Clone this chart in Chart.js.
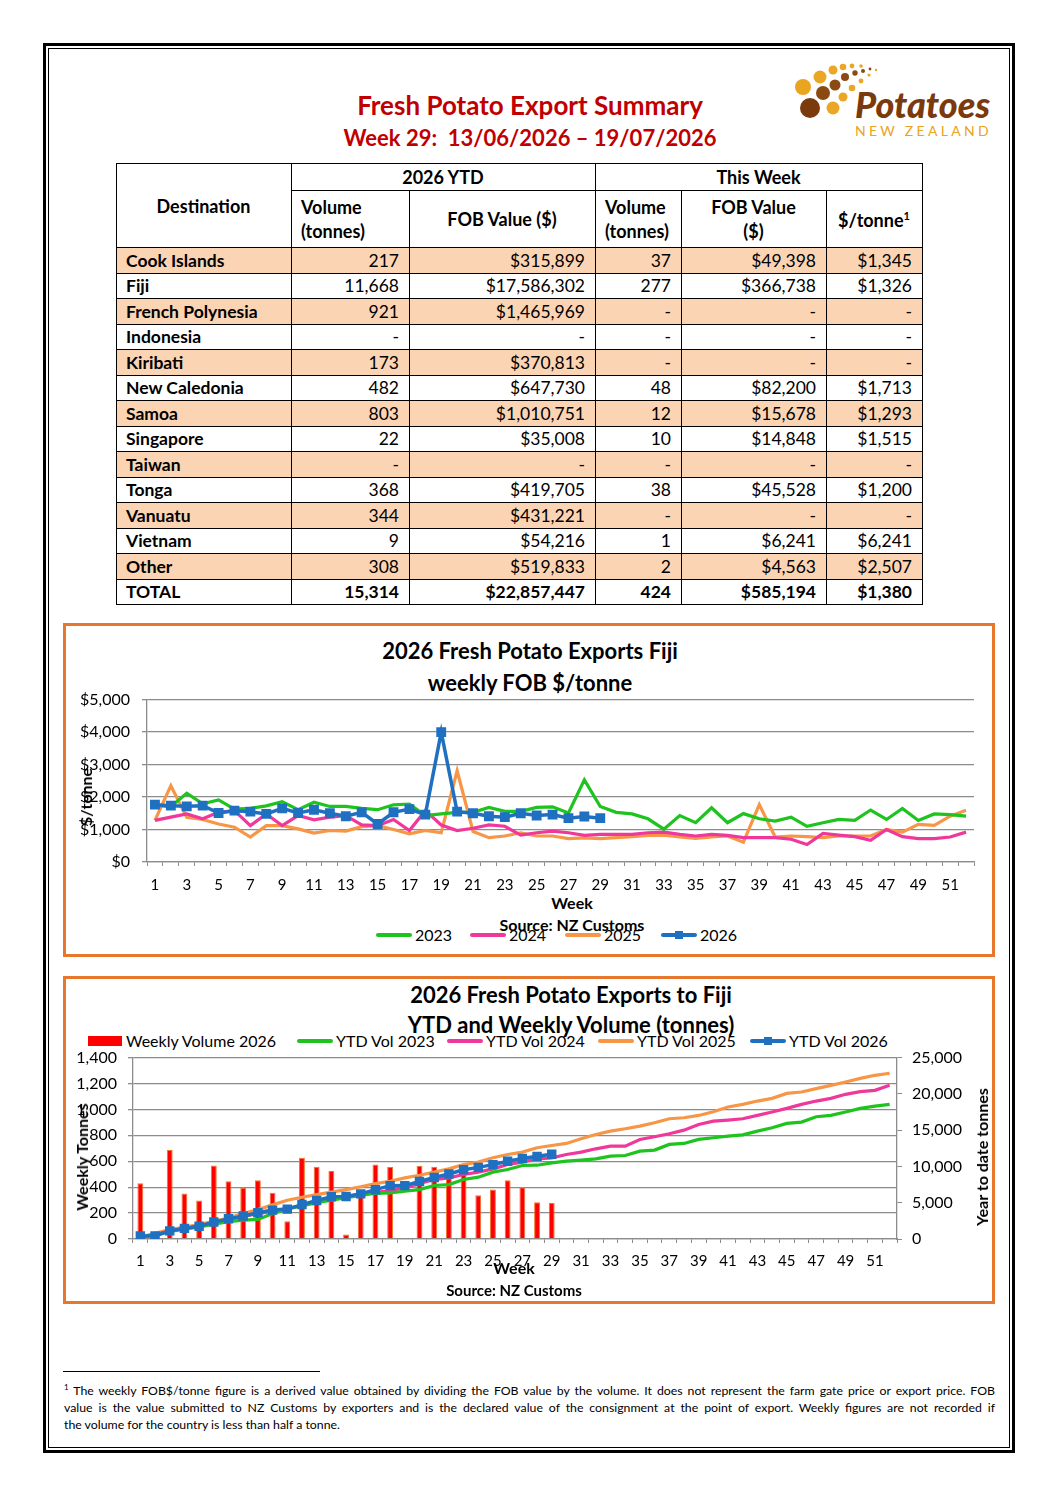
<!DOCTYPE html>
<html>
<head>
<meta charset="utf-8">
<script src="https://cdn.jsdelivr.net/npm/chart.js@4.4.1/dist/chart.umd.min.js"></script>
<style>
  body { margin: 0; background: #fff; font-family: Lato, "Open Sans", sans-serif; color: #000; }
  #page { position: relative; width: 1058px; height: 1497px; overflow: hidden; }
  .abs { position: absolute; }
  .lbl { position: absolute; white-space: pre; transform: translate(-50%, -50%); line-height: 1; }
  table { position: absolute; left: 116px; top: 163px; border-collapse: collapse; table-layout: fixed; font-size: 17.5px; }
  td { border: 1px solid #000; padding: 0 10px 0 9px; height: 24.5px; line-height: 1; }
  td.n { text-align: right; }
  tr.alt td { background: #fbd4b4; }
  .box { position: absolute; border: 3px solid #e8772e; box-sizing: border-box; }
</style>
</head>
<body>
<div id="page">
  <div class="abs" style="left:43px;top:43px;width:972px;height:1410px;border:3px solid #000;box-sizing:border-box;"></div>
  <div class="abs" style="left:48px;top:48px;width:962px;height:1400px;border:1px solid #000;box-sizing:border-box;"></div>

  <div class="lbl" style="left:530px;top:105px;font-size:26px;font-weight:bold;color:#c00000;">Fresh Potato Export Summary</div>
  <div class="lbl" style="left:530px;top:138px;font-size:22px;font-weight:bold;color:#c00000;">Week 29:  13/06/2026 – 19/07/2026</div>

  <svg class="abs" style="left:780px;top:55px;" width="230" height="100" viewBox="780 55 230 100">
    <circle cx="803" cy="87" r="8" fill="#e9a420"/>
    <circle cx="810" cy="108" r="10" fill="#7b3a0c"/>
    <circle cx="823" cy="93" r="7" fill="#8a4a12"/>
    <circle cx="820" cy="77" r="6.5" fill="#eaa726"/>
    <circle cx="833" cy="108" r="6.5" fill="#eaa726"/>
    <circle cx="835" cy="85" r="5.5" fill="#8a4a12"/>
    <circle cx="833" cy="70" r="4.5" fill="#eaa726"/>
    <circle cx="843" cy="97" r="4.5" fill="#eaa726"/>
    <circle cx="845" cy="77" r="4" fill="#8a4a12"/>
    <circle cx="843" cy="67" r="3.3" fill="#eaa726"/>
    <circle cx="852" cy="88" r="3.3" fill="#eaa726"/>
    <circle cx="855" cy="73" r="2.7" fill="#8a4a12"/>
    <circle cx="852" cy="66" r="2.4" fill="#eaa726"/>
    <circle cx="861" cy="81" r="2.4" fill="#eaa726"/>
    <circle cx="863" cy="71" r="2" fill="#8a4a12"/>
    <circle cx="861" cy="66" r="1.8" fill="#eaa726"/>
    <circle cx="869" cy="75" r="1.6" fill="#eaa726"/>
    <circle cx="870" cy="69" r="1.4" fill="#8a4a12"/>
    <circle cx="876" cy="70" r="1.2" fill="#eaa726"/>
    <text x="855" y="118" font-family="Lato, sans-serif" font-size="36" font-weight="900" font-style="italic" fill="#7b3a0c">Potatoes</text>
    <text x="855" y="136" font-family="Lato, sans-serif" font-size="14" letter-spacing="3.3" fill="#e9a420">NEW ZEALAND</text>
  </svg>

  <table id="tbl">
    <colgroup>
      <col style="width:175px"><col style="width:118px"><col style="width:186px">
      <col style="width:86px"><col style="width:145px"><col style="width:96px">
    </colgroup>
    <tbody id="tbody">
      <tr style="font-weight:bold;font-size:18px;">
        <td rowspan="2" style="text-align:center;">Destination</td>
        <td colspan="2" style="text-align:center;height:26px;">2026 YTD</td>
        <td colspan="3" style="text-align:center;">This Week</td>
      </tr>
      <tr style="font-weight:bold;font-size:18px;">
        <td style="height:56px;line-height:1.35;">Volume<br>(tonnes)</td>
        <td style="text-align:center;">FOB Value ($)</td>
        <td style="line-height:1.35;">Volume<br>(tonnes)</td>
        <td style="text-align:center;line-height:1.35;">FOB Value<br>($)</td>
        <td style="text-align:center;">$/tonne<sup style="font-size:11px;">1</sup></td>
      </tr>
    </tbody>
  </table>

  <div class="box" style="left:63px;top:623px;width:932px;height:334px;"></div>
  <div class="lbl" style="left:530px;top:651px;font-size:22px;font-weight:bold;">2026 Fresh Potato Exports Fiji</div>
  <div class="lbl" style="left:530px;top:683px;font-size:22px;font-weight:bold;">weekly FOB $/tonne</div>
  <div class="abs" style="left:65px;top:678px;width:925px;height:212px;"><canvas id="fobChart"></canvas></div>
  <div class="lbl" style="left:86px;top:797px;font-size:16px;font-weight:bold;transform:translate(-50%,-50%) rotate(-90deg);">$/tonne</div>
  <div class="lbl" style="left:572px;top:903px;font-size:16px;font-weight:bold;">Week</div>
  <div id="legend1"></div>
  <div class="lbl" style="left:572px;top:925px;font-size:16px;font-weight:bold;">Source: NZ Customs</div>

  <div class="box" style="left:63px;top:976px;width:932px;height:328px;"></div>
  <div class="lbl" style="left:571px;top:995px;font-size:22px;font-weight:bold;">2026 Fresh Potato Exports to Fiji</div>
  <div class="lbl" style="left:571px;top:1025px;font-size:22px;font-weight:bold;">YTD and Weekly Volume (tonnes)</div>
  <div id="legend2"></div>
  <div class="abs" style="left:65px;top:1037px;width:925px;height:230px;"><canvas id="volChart"></canvas></div>
  <div class="lbl" style="left:82px;top:1157px;font-size:16px;font-weight:bold;transform:translate(-50%,-50%) rotate(-90deg);">Weekly Tonnes</div>
  <div class="lbl" style="left:982px;top:1157px;font-size:16px;font-weight:bold;transform:translate(-50%,-50%) rotate(-90deg);">Year to date tonnes</div>
  <div class="lbl" style="left:514px;top:1268px;font-size:16px;font-weight:bold;">Week</div>
  <div class="lbl" style="left:514px;top:1290px;font-size:15px;font-weight:bold;">Source: NZ Customs</div>

  <div class="abs" style="left:63px;top:1371px;width:257px;height:1px;background:#000;"></div>
  <div class="abs" style="left:64px;top:1379px;width:931px;font-size:12.3px;line-height:17px;">
    <div style="text-align:justify;text-align-last:justify;"><sup style="font-size:8px;">1</sup> The weekly FOB$/tonne figure is a derived value obtained by dividing the FOB value by the volume. It does not represent the farm gate price or export price. FOB</div>
    <div style="text-align:justify;text-align-last:justify;">value is the value submitted to NZ Customs by exporters and is the declared value of the consignment at the point of export. Weekly figures are not recorded if</div>
    <div>the volume for the country is less than half a tonne.</div>
  </div>
</div>

<script>
// table
const destinations = ['Cook Islands', 'Fiji', 'French Polynesia', 'Indonesia', 'Kiribati', 'New Caledonia', 'Samoa',
  'Singapore', 'Taiwan', 'Tonga', 'Vanuatu', 'Vietnam', 'Other', 'TOTAL'];
const ytdVolume = ['217', '11,668', '921', '-', '173', '482', '803', '22', '-', '368', '344', '9', '308', '15,314'];
const ytdFob = ['$315,899', '$17,586,302', '$1,465,969', '-', '$370,813', '$647,730', '$1,010,751', '$35,008', '-',
  '$419,705', '$431,221', '$54,216', '$519,833', '$22,857,447'];
const weekVolume = ['37', '277', '-', '-', '-', '48', '12', '10', '-', '38', '-', '1', '2', '424'];
const weekFob = ['$49,398', '$366,738', '-', '-', '-', '$82,200', '$15,678', '$14,848', '-', '$45,528', '-', '$6,241',
  '$4,563', '$585,194'];
const perTonne = ['$1,345', '$1,326', '-', '-', '-', '$1,713', '$1,293', '$1,515', '-', '$1,200', '-', '$6,241',
  '$2,507', '$1,380'];

// chart data
const weeks = ['1','2','3','4','5','6','7','8','9','10','11','12','13','14','15','16','17','18','19','20','21','22','23',
  '24','25','26','27','28','29','30','31','32','33','34','35','36','37','38','39','40','41','42','43','44','45','46','47',
  '48','49','50','51','52'];

const fob2023 = [1750,1700,2120,1790,1910,1630,1650,1730,1860,1610,1840,1710,1710,1650,1610,1760,1785,1430,1480,1530,
  1530,1680,1560,1560,1680,1700,1510,2530,1710,1530,1480,1330,1010,1430,1210,1670,1210,1490,1330,1260,1380,1100,1210,
  1310,1280,1600,1310,1650,1280,1480,1460,1410];
const fob2024 = [1280,1380,1480,1330,1530,1580,1120,1480,1120,1430,1300,1380,1430,1140,1120,1310,970,1580,1140,970,
  1040,1140,1100,830,900,950,900,820,850,850,850,900,920,850,800,850,820,750,750,750,700,540,880,830,780,670,1000,780,
  720,720,770,920];
const fob2025 = [1280,2350,1380,1310,1170,1070,765,1120,1120,1020,890,970,950,1090,1120,1000,870,970,900,2810,940,750,
  800,900,800,800,720,740,720,750,780,820,830,770,730,770,800,610,1770,770,800,780,750,800,800,800,1000,920,1160,1130,
  1410,1590];
const fob2026 = [1765,1735,1714,1735,1510,1580,1550,1480,1650,1510,1610,1500,1410,1530,1170,1530,1630,1460,4000,1550,
  1500,1410,1380,1500,1430,1460,1350,1400,1350];

const weekly2026 = [430,0,686,351,297,568,446,395,454,356,137,627,557,524,34,361,575,555,5,563,557,480,575,338,382,454,
  400,284,277];
const ytd2023 = [250,560,1050,1350,1650,2050,2400,2600,2700,3500,4150,4550,5000,5350,5700,6000,6300,6350,6580,6810,
  7370,7500,8200,8520,9210,9580,10130,10170,10500,10730,10870,11050,11420,11510,12110,12250,13030,13170,13720,13950,
  14180,14360,14870,15330,15930,16110,16850,17030,17500,18000,18320,18550];
const ytd2024 = [200,650,1100,1450,1800,2250,2700,3100,3500,3850,4200,4650,5100,5450,5800,6100,6400,6680,7040,7640,
  8190,8430,8890,9210,9670,10270,10590,11050,11190,11650,11970,12430,12800,12800,13720,14090,14500,15000,15790,16250,
  16390,16570,17030,17500,18000,18550,19010,19380,19940,20300,20490,21180];
const ytd2025 = [280,800,1290,1650,1980,2450,2900,3500,4050,4700,5340,5750,6120,6450,6810,7200,7640,7960,8430,8790,
  9210,9670,10270,10590,11190,11650,11970,12570,12890,13170,13810,14410,14870,15190,15560,16020,16570,16710,17030,17540,
  18190,18550,19010,19380,20070,20260,20720,21180,21640,22140,22560,22840];
const ytd2026 = [430,430,1116,1467,1764,2332,2778,3173,3627,3983,4120,4747,5304,5828,5862,6223,6798,7353,7358,7921,
  8478,8958,9533,9871,10253,10707,11107,11391,11668];

const GREEN = '#1ec31e', PINK = '#f0389b', ORANGE = '#f79646', BLUE = '#1f70c1', RED = '#ff0000';

const tbody = document.getElementById('tbody');
destinations.forEach((d, i) => {
  const tr = document.createElement('tr');
  if (i % 2 === 0 && i < 13) tr.className = 'alt';
  if (i === 13) tr.style.fontWeight = 'bold';
  const cells = [d, ytdVolume[i], ytdFob[i], weekVolume[i], weekFob[i], perTonne[i]];
  cells.forEach((c, j) => {
    const td = document.createElement('td');
    td.textContent = c;
    if (j === 0) td.style.fontWeight = 'bold';
    else td.className = 'n';
    tr.appendChild(td);
  });
  tbody.appendChild(tr);
});

function legend(id, items, y) {
  const host = document.getElementById(id);
  items.forEach(it => {
    const line = document.createElement('div');
    line.className = 'abs';
    if (it.bar) {
      line.style.cssText = `left:${it.x}px;top:${y - 5}px;width:34px;height:10px;background:${it.color};`;
    } else {
      line.style.cssText = `left:${it.x}px;top:${y - 2}px;width:36px;height:4px;background:${it.color};border-radius:2px;`;
    }
    host.appendChild(line);
    if (it.marker) {
      const m = document.createElement('div');
      m.className = 'abs';
      m.style.cssText = `left:${it.x + 14}px;top:${y - 4}px;width:8px;height:8px;background:${it.color};`;
      host.appendChild(m);
    }
    const t = document.createElement('div');
    t.className = 'abs';
    t.style.cssText = `left:${it.x + (it.bar ? 38 : 39)}px;top:${y - 9}px;font-size:16px;line-height:18px;white-space:pre;`;
    t.textContent = it.text;
    host.appendChild(t);
  });
}

legend('legend1', [
  { x: 376, color: GREEN, text: '2023' },
  { x: 470, color: PINK, text: '2024' },
  { x: 565, color: ORANGE, text: '2025' },
  { x: 661, color: BLUE, text: '2026', marker: true }
], 935);

legend('legend2', [
  { x: 88, color: RED, text: 'Weekly Volume 2026', bar: true },
  { x: 297, color: GREEN, text: 'YTD Vol 2023' },
  { x: 447, color: PINK, text: 'YTD Vol 2024' },
  { x: 598, color: ORANGE, text: 'YTD Vol 2025' },
  { x: 750, color: BLUE, text: 'YTD Vol 2026', marker: true }
], 1041);

Chart.defaults.font.family = 'Lato, "Open Sans", sans-serif';
Chart.defaults.color = '#000';

function lineSet(label, data, color, axis, extra) {
  return Object.assign({
    type: 'line', label: label, data: data, borderColor: color, backgroundColor: color,
    borderWidth: 3.2, pointRadius: 0, tension: 0, yAxisID: axis, order: 1
  }, extra || {});
}

const gridGray = '#8c8c8c';

new Chart(document.getElementById('fobChart').getContext('2d'), {
  type: 'line',
  data: {
    labels: weeks,
    datasets: [
      lineSet('2023', fob2023, GREEN, 'y'),
      lineSet('2024', fob2024, PINK, 'y'),
      lineSet('2025', fob2025, ORANGE, 'y'),
      lineSet('2026', fob2026, BLUE, 'y', { order: 0, pointStyle: 'rect', pointRadius: 4.5, borderWidth: 3.5 })
    ]
  },
  options: {
    responsive: true,
    maintainAspectRatio: false,
    animation: false,
    layout: { padding: { top: 0, right: 16, left: 0, bottom: 0 } },
    plugins: { legend: { display: false }, tooltip: { enabled: false } },
    scales: {
      x: {
        offset: true,
        afterFit: s => { s.height = 28; },
        grid: { drawOnChartArea: false, drawTicks: true, tickLength: 4, color: gridGray, offset: true },
        border: { color: gridGray, width: 1.3 },
        ticks: {
          autoSkip: false, maxRotation: 0, padding: 10, font: { size: 15 },
          callback: (v, i) => (i % 2 === 0 ? weeks[i] : '')
        }
      },
      y: {
        min: 0, max: 5000,
        afterFit: s => { s.width = 82; },
        grid: { color: gridGray, lineWidth: 1.3, tickLength: 5 },
        border: { color: gridGray, width: 1.3 },
        ticks: {
          stepSize: 1000, padding: 12, font: { size: 16 },
          callback: v => '$' + v.toLocaleString('en-US')
        }
      }
    }
  }
});

new Chart(document.getElementById('volChart').getContext('2d'), {
  type: 'bar',
  data: {
    labels: weeks,
    datasets: [
      lineSet('YTD Vol 2023', ytd2023, GREEN, 'y1'),
      lineSet('YTD Vol 2024', ytd2024, PINK, 'y1'),
      lineSet('YTD Vol 2025', ytd2025, ORANGE, 'y1'),
      lineSet('YTD Vol 2026', ytd2026, BLUE, 'y1', { order: 0, pointStyle: 'rect', pointRadius: 4.2, borderWidth: 3.5 }),
      {
        type: 'bar', label: 'Weekly Volume 2026', data: weekly2026, yAxisID: 'y', order: 2,
        backgroundColor: RED, borderColor: '#f2742c', borderWidth: 1,
        categoryPercentage: 1, barPercentage: 0.4
      }
    ]
  },
  options: {
    responsive: true,
    maintainAspectRatio: false,
    animation: false,
    layout: { padding: { top: 0, right: 0, left: 0, bottom: 0 } },
    plugins: { legend: { display: false }, tooltip: { enabled: false } },
    scales: {
      x: {
        offset: true,
        afterFit: s => { s.height = 28; },
        grid: { drawOnChartArea: false, drawTicks: true, tickLength: 4, color: gridGray, offset: true },
        border: { color: gridGray, width: 1.3 },
        ticks: {
          autoSkip: false, maxRotation: 0, padding: 9, font: { size: 15 },
          callback: (v, i) => (i % 2 === 0 ? weeks[i] : '')
        }
      },
      y: {
        position: 'left', min: 0, max: 1400,
        afterFit: s => { s.width = 68; },
        grid: { color: gridGray, lineWidth: 1.3, tickLength: 5 },
        border: { color: gridGray, width: 1.3 },
        ticks: { stepSize: 200, padding: 11, font: { size: 16 } }
      },
      y1: {
        position: 'right', min: 0, max: 25000,
        afterFit: s => { s.width = 93; },
        grid: { drawOnChartArea: false, color: gridGray, tickLength: 5 },
        border: { color: gridGray, width: 1.3 },
        ticks: { stepSize: 5000, padding: 10, font: { size: 16 } }
      }
    }
  }
});
</script>
</body>
</html>
